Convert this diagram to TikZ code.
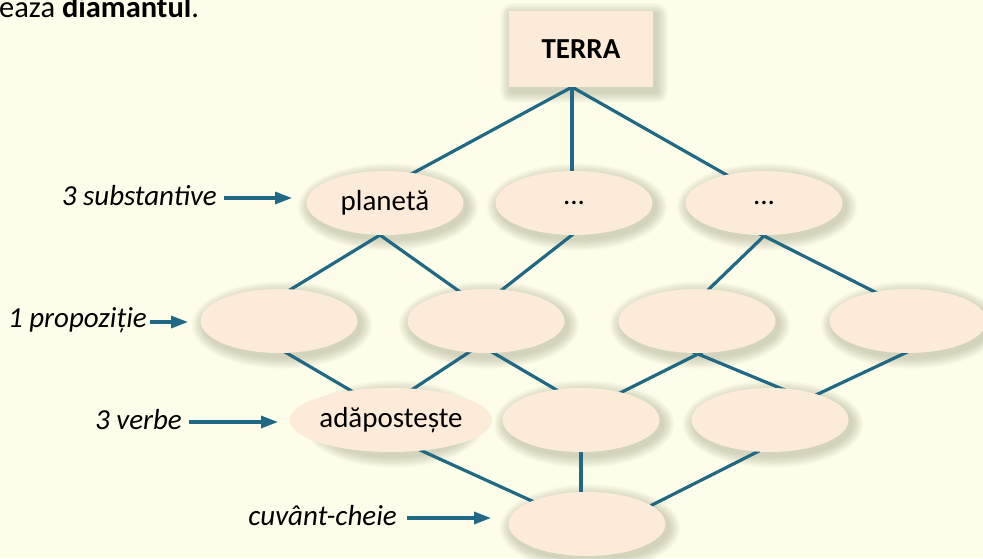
\documentclass[tikz,border=0pt]{standalone}
\usepackage{fontspec}
\setmainfont{Carlito}
\usetikzlibrary{arrows.meta,shapes.geometric,calc}
\definecolor{bg}{RGB}{254,253,234}
\definecolor{shapefill}{RGB}{253,235,218}
\definecolor{conncol}{RGB}{31,104,134}
\definecolor{shadc}{RGB}{110,115,78}
\pgfdeclarelayer{shad}
\pgfdeclarelayer{lines}
\pgfsetlayers{shad,lines,main}
\newcommand\ellshadow[1]{%
  \foreach \k in {1,...,9}{%
    \fill[shadc,opacity=0.036] ($(#1)+(3,4)$) ellipse [x radius={78.5pt+\k*1.3pt}, y radius={32pt+\k*1.3pt}];}}
\begin{document}
\begin{tikzpicture}[x=1pt,y=-1pt,
  font=\fontsize{29}{33}\selectfont,
  ell/.style={ellipse, fill=shapefill, minimum width=157pt, minimum height=64pt, inner sep=0pt},
  topbox/.style={rectangle, fill=shapefill, minimum width=144pt, minimum height=76pt, inner sep=0pt, font=\fontsize{29}{33}\selectfont\bfseries},
  link/.style={draw=conncol, line width=3.2pt, shorten <=-6pt, shorten >=-6pt},
  arr/.style={draw=conncol, line width=3.2pt, -{Triangle[length=17pt,width=12pt]}},
  lab/.style={inner sep=0pt, anchor=base east, font=\fontsize{29}{33}\selectfont\itshape}]
\useasboundingbox (0,0) rectangle (983,558);
\begin{pgfonlayer}{shad}
  \fill[bg] (0,0) rectangle (983,558);
\end{pgfonlayer}

% heading fragment
\node[anchor=base west, inner sep=0pt, font=\fontsize{30.5}{34}\selectfont] (head) at (-1,17) {eaza \textbf{diamantul}.};

% shapes
\node[topbox] (terra) at (581,49) {TERRA};
\node[ell] (r1a) at (385,203) {planetă};
\node[ell] (r1b) at (574,203) {...};
\node[ell] (r1c) at (764,203) {...};
\node[ell] (r2a) at (279,321) {};
\node[ell] (r2b) at (486,321) {};
\node[ell] (r2c) at (697,321) {};
\node[ell] (r2d) at (908,321) {};
\node[ell] (r3a) at (391,420) {adăpostește};
\node[ell] (r3b) at (581,420) {};
\node[ell] (r3c) at (770,420) {};
\node[ell] (r4a) at (587,524) {};

% shadows
\begin{pgfonlayer}{shad}
  \foreach \n in {r1a,r1b,r1c,r2a,r2b,r2c,r2d,r3a,r3b,r3c,r4a}{\ellshadow{\n}}
  \foreach \k in {1,...,9}{%
    \fill[shadc,opacity=0.036,rounded corners=\k*1.3pt]
      ($(terra.south west)+(3-\k*1.3,4+\k*1.3)$) rectangle ($(terra.north east)+(3+\k*1.3,4-\k*1.3)$);}
\end{pgfonlayer}

% connector points
\coordinate (ta) at (572,87);
\coordinate (t1) at (415,172);
\coordinate (t2) at (572,170);
\coordinate (t3) at (725,174);
\coordinate (pa) at (380,235);
\coordinate (q1) at (293,288);
\coordinate (q2) at (456,289);
\coordinate (pb) at (572,235);
\coordinate (q3) at (503,289);
\coordinate (pc) at (764,236);
\coordinate (q4) at (708,290);
\coordinate (q5) at (875,292);
\coordinate (ra) at (285,352);
\coordinate (s1) at (355,393);
\coordinate (rb) at (480,345);
\coordinate (s2) at (413,389);
\coordinate (s3) at (555,389);
\coordinate (rc) at (698,354);
\coordinate (s4) at (622,392);
\coordinate (s5) at (780,388);
\coordinate (rd) at (903,354);
\coordinate (s6) at (818,394);
\coordinate (ua) at (420,450);
\coordinate (v1) at (532,501);
\coordinate (ub) at (581,452);
\coordinate (v2) at (581,492);
\coordinate (uc) at (757,452);
\coordinate (v3) at (656,503);

\begin{pgfonlayer}{lines}
  \draw[link] (ta) -- (t1);
  \draw[link] (ta) -- (t2);
  \draw[link] (ta) -- (t3);
  \draw[link] (pa) -- (q1);
  \draw[link] (pa) -- (q2);
  \draw[link] (pb) -- (q3);
  \draw[link] (pc) -- (q4);
  \draw[link] (pc) -- (q5);
  \draw[link] (ra) -- (s1);
  \draw[link] (rb) -- (s2);
  \draw[link] (rb) -- (s3);
  \draw[link] (rc) -- (s4);
  \draw[link] (rc) -- (s5);
  \draw[link] (rd) -- (s6);
  \draw[link] (ua) -- (v1);
  \draw[link] (ub) -- (v2);
  \draw[link] (uc) -- (v3);
\end{pgfonlayer}

% labels
\node[lab] (l1) at (217,205) {3 substantive};
\node[lab] (l2) at (147,327) {1 propoziție};
\node[lab] (l3) at (182,429) {3 verbe};
\node[lab] (l4) at (397,525) {cuvânt-cheie};
\coordinate (a1) at (292,198);
\coordinate (a2) at (188,322);
\coordinate (a3) at (278,422);
\coordinate (a4) at (491,518);
\draw[arr] ($(l1.base east)+(7,-7)$) -- (a1);
\draw[arr] ($(l2.base east)+(3,-5)$) -- (a2);
\draw[arr] ($(l3.base east)+(7,-7)$) -- (a3);
\draw[arr] ($(l4.base east)+(10,-7)$) -- (a4);
\end{tikzpicture}
\end{document}
